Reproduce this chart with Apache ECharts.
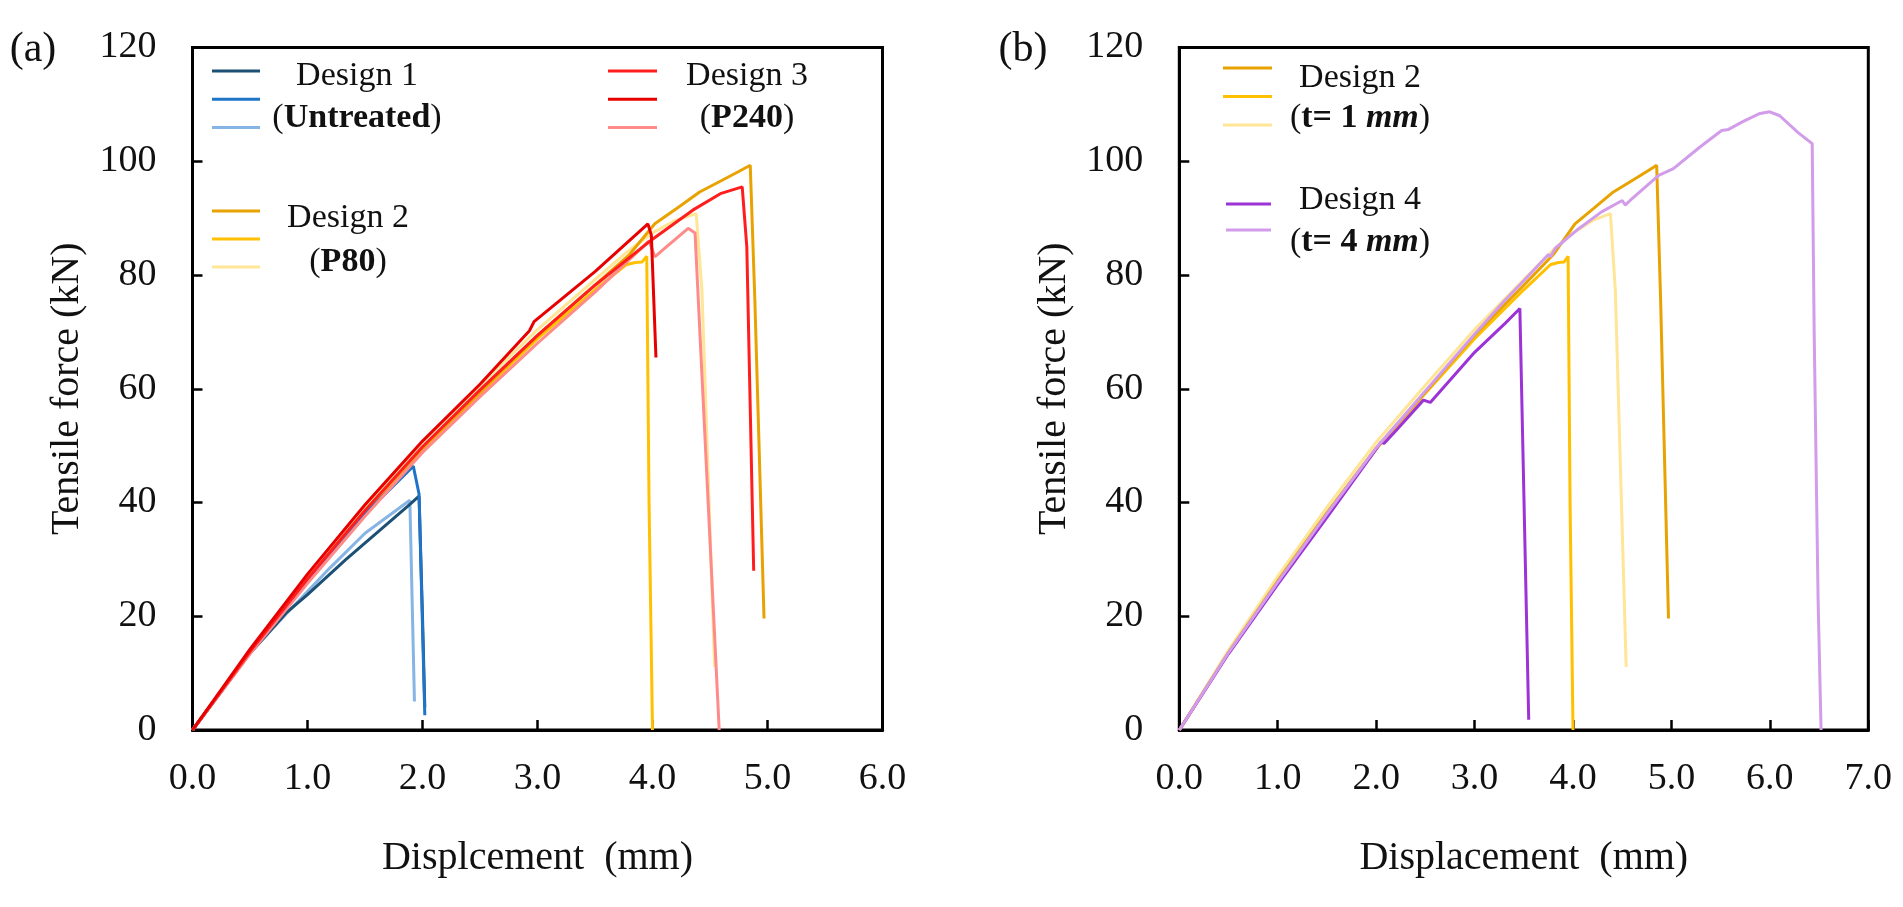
<!DOCTYPE html>
<html><head><meta charset="utf-8">
<script src="https://cdn.jsdelivr.net/npm/echarts@6/dist/echarts.min.js"></script>
<style>html,body{margin:0;padding:0;background:#fff}#c{width:1903px;height:907px}</style>
</head><body><div id="c"></div><script>
const FONT = '"Liberation Serif","Times New Roman",serif';

// ---------- Panel (a) ----------
const xTicksA = [0, 1, 2, 3, 4, 5, 6];
const yTicks = [0, 20, 40, 60, 80, 100, 120];
// Design 1 (Untreated)
const d1Dark  = [[0,0],[0.5,13.5],[0.81,20.5],[1.0,23.8],[1.33,29.9],[1.6,34.6],[1.87,39.3],[1.97,41.1],[2.0,20],[2.02,4]];
const d1Mid   = [[0,0],[0.5,13.6],[1.0,26],[1.5,38],[1.92,46.4],[1.97,41.5],[2.02,2.6]];
const d1Light = [[0,0],[0.5,13.5],[0.85,21.2],[1.2,28.6],[1.5,34.6],[1.89,40.4],[1.93,5]];
// Design 2 (P80)  -- same specimens as Design 2 (t = 1 mm)
const d2Dark  = [[0,0],[0.5,13.6],[1.0,26.2],[1.5,38.2],[2.0,49.6],[2.5,59.4],[3.0,69.4],[3.5,78.2],[3.8,83.6],[4.02,89.0],[4.21,91.7],[4.41,94.6],[4.61,96.7],[4.75,98.2],[4.85,99.3],[4.89,75.6],[4.97,19.6]];
const d2Mid   = [[0,0],[0.5,13.6],[1.0,26],[1.5,38],[2.0,49.4],[2.5,59.2],[3.0,68.8],[3.5,77.4],[3.77,81.8],[3.85,82.2],[3.91,82.3],[3.95,83.3],[3.97,40],[4.0,0]];
const d2Pale  = [[0,0],[0.5,14],[1.0,27],[1.5,39.2],[2.0,50.6],[2.5,60.6],[3.0,70.4],[3.5,79.2],[3.8,84.4],[4.0,87.4],[4.2,89.6],[4.38,90.8],[4.43,77.3],[4.54,11.1]];
// Design 3 (P240)
const d3Red1  = [[0,0],[0.5,13.8],[1.0,26.6],[1.5,38.6],[2.0,49.8],[2.5,59.8],[3.0,69.4],[3.5,78.2],[4.0,86.3],[4.35,91.4],[4.59,94.3],[4.78,95.5],[4.82,85],[4.88,28]];
const d3Red2  = [[0,0],[0.5,14.2],[1.0,27.4],[1.5,39.6],[2.0,50.8],[2.5,60.8],[2.93,70.2],[2.97,71.8],[3.5,80.6],[3.96,89.0],[3.99,87],[4.03,65.5]];
const d3Pink  = [[0,0],[0.5,13.4],[1.0,25.8],[1.5,37.6],[2.0,48.8],[2.5,58.6],[3.0,68],[3.5,77],[3.97,86],[4.02,83.2],[4.1,84.6],[4.31,88.2],[4.37,87.4],[4.58,0]];

// ---------- Panel (b) ----------
const xTicksB = [0, 1, 2, 3, 4, 5, 6, 7];
// Design 4 (t = 4 mm)
const d4Dark  = [[0,0],[0.5,13.4],[1.0,25.6],[1.5,37.4],[2.0,49.4],[2.05,50.6],[2.08,50.4],[2.2,52.6],[2.48,58],[2.55,57.6],[3.0,66.4],[3.31,71.5],[3.46,74.1],[3.55,1.8]];
const d4Light = [[0,0],[0.5,13.6],[1.0,26],[1.5,38],[2.0,49.6],[2.5,59.6],[3.0,69.6],[3.29,75.2],[3.5,79],[3.75,83.6],[3.77,83.2],[3.82,84.7],[4.04,87.9],[4.29,91.1],[4.5,93.1],[4.53,92.3],[4.58,93.1],[4.87,97.5],[5.02,98.7],[5.29,102.5],[5.51,105.4],[5.58,105.6],[5.73,107],[5.9,108.4],[6.0,108.7],[6.1,108],[6.29,105],[6.43,103.1],[6.45,70],[6.49,22.8],[6.52,0]];

const C = {
  d1Dark:'#1c5075', d1Mid:'#1f74c8', d1Light:'#86b4e4',
  d2Dark:'#e8a202', d2Mid:'#ffc000', d2Pale:'#ffe596',
  d3Red1:'#ff1e1e', d3Red2:'#e80000', d3Pink:'#ff8a8a',
  d4Dark:'#9b33d6', d4Light:'#d29cea'
};

function ser(name, data, color, g) {
  return { name, type:'line', data, xAxisIndex:g, yAxisIndex:g, symbol:'none', smooth:false,
    color, lineStyle:{color, width:3}, itemStyle:{color}, z:2, animation:false };
}

const grids = [
  { left:192.5, top:47.5, width:690, height:682.5 },
  { left:1179.3, top:47.5, width:689, height:682.5 }
];

function xAxisCfg(g, ticks, name) {
  return { type:'value', gridIndex:g, min:ticks[0], max:ticks[ticks.length-1], interval:1,
    axisLine:{show:true, onZero:false, lineStyle:{color:'#000', width:3}},
    axisTick:{show:true, inside:true, length:10, lineStyle:{color:'#000', width:2.5}},
    splitLine:{show:false},
    axisLabel:{margin:30, fontSize:38, fontFamily:FONT, color:'#111', formatter:v=>v.toFixed(1)},
    name, nameLocation:'middle', nameGap:108,
    nameTextStyle:{fontSize:40, fontFamily:FONT, color:'#111'} };
}
function yAxisCfg(g) {
  return { type:'value', gridIndex:g, min:yTicks[0], max:yTicks[yTicks.length-1], interval:20,
    axisLine:{show:true, onZero:false, lineStyle:{color:'#000', width:3}},
    axisTick:{show:true, inside:true, length:10, lineStyle:{color:'#000', width:2.5}},
    splitLine:{show:false},
    axisLabel:{margin:36, fontSize:38, fontFamily:FONT, color:'#111'},
    name:'Tensile force (kN)', nameLocation:'middle', nameGap:105, nameRotate:90,
    nameTextStyle:{fontSize:40, fontFamily:FONT, color:'#111'} };
}

// legend rows: icon is a thin rect (line swatch); row pitch = itemHeight + itemGap
function leg(names, left, firstRowY, w, pitch) {
  return { data:names.map(n => ({name:n, icon:'rect'})), left, top:firstRowY - 1.5, orient:'vertical',
    itemWidth:w, itemHeight:3, itemGap:pitch - 3,
    padding:0, selectedMode:false, formatter:()=>'', textStyle:{fontSize:1, lineHeight:1} };
}

function txt(x, y, text, rich, size) {
  return { type:'text', x, y, silent:true, z:10,
    style:{ text, align:'center', verticalAlign:'middle', fontSize:size||34, fontFamily:FONT, fill:'#111', rich } };
}
const RICH = {
  n:{fontSize:34, fontFamily:FONT, fill:'#111', color:'#111'},
  b:{fontSize:34, fontFamily:FONT, fontWeight:'bold', color:'#111'},
  bi:{fontSize:34, fontFamily:FONT, fontWeight:'bold', fontStyle:'italic', color:'#111'}
};

const option = {
  backgroundColor:'#fff',
  animation:false,
  grid: grids.map(g => Object.assign({show:true, borderColor:'#000', borderWidth:3, backgroundColor:'transparent'}, g)),
  xAxis:[ xAxisCfg(0, xTicksA, 'Displcement  (mm)'), xAxisCfg(1, xTicksB, 'Displacement  (mm)') ],
  yAxis:[ yAxisCfg(0), yAxisCfg(1) ],
  legend:[
    leg(['a-d1-1','a-d1-2','a-d1-3'], 212, 71, 48, 28.3),
    leg(['a-d3-1','a-d3-2','a-d3-3'], 608, 71, 49, 28.3),
    leg(['a-d2-1','a-d2-2','a-d2-3'], 212, 211, 48, 28),
    leg(['b-d2-1','b-d2-2','b-d2-3'], 1223, 68, 49, 28.5),
    leg(['b-d4-1','b-d4-2'], 1226, 204, 45, 26)
  ],
  series:[
    ser('a-d2-3', d2Pale, C.d2Pale, 0),
    ser('a-d2-2', d2Mid, C.d2Mid, 0),
    ser('a-d2-1', d2Dark, C.d2Dark, 0),
    ser('a-d1-3', d1Light, C.d1Light, 0),
    ser('a-d1-1', d1Dark, C.d1Dark, 0),
    ser('a-d1-2', d1Mid, C.d1Mid, 0),
    ser('a-d3-3', d3Pink, C.d3Pink, 0),
    ser('a-d3-1', d3Red1, C.d3Red1, 0),
    ser('a-d3-2', d3Red2, C.d3Red2, 0),
    ser('b-d2-3', d2Pale, C.d2Pale, 1),
    ser('b-d2-2', d2Mid, C.d2Mid, 1),
    ser('b-d2-1', d2Dark, C.d2Dark, 1),
    ser('b-d4-1', d4Dark, C.d4Dark, 1),
    ser('b-d4-2', d4Light, C.d4Light, 1)
  ],
  graphic:[
    txt(33, 50, '(a)', null, 42),
    txt(1023, 50, '(b)', null, 42),
    txt(357, 76, 'Design 1'),
    txt(357, 118, '{n|(}{b|Untreated}{n|)}', RICH),
    txt(348, 218, 'Design 2'),
    txt(348, 262, '{n|(}{b|P80}{n|)}', RICH),
    txt(747, 76, 'Design 3'),
    txt(747, 118, '{n|(}{b|P240}{n|)}', RICH),
    txt(1360, 78, 'Design 2'),
    txt(1360, 118, '{n|(}{b|t= 1 }{bi|mm}{n|)}', RICH),
    txt(1360, 200, 'Design 4'),
    txt(1360, 242, '{n|(}{b|t= 4 }{bi|mm}{n|)}', RICH)
  ]
};
const chart = echarts.init(document.getElementById('c'));
chart.setOption(option);
</script></body></html>
